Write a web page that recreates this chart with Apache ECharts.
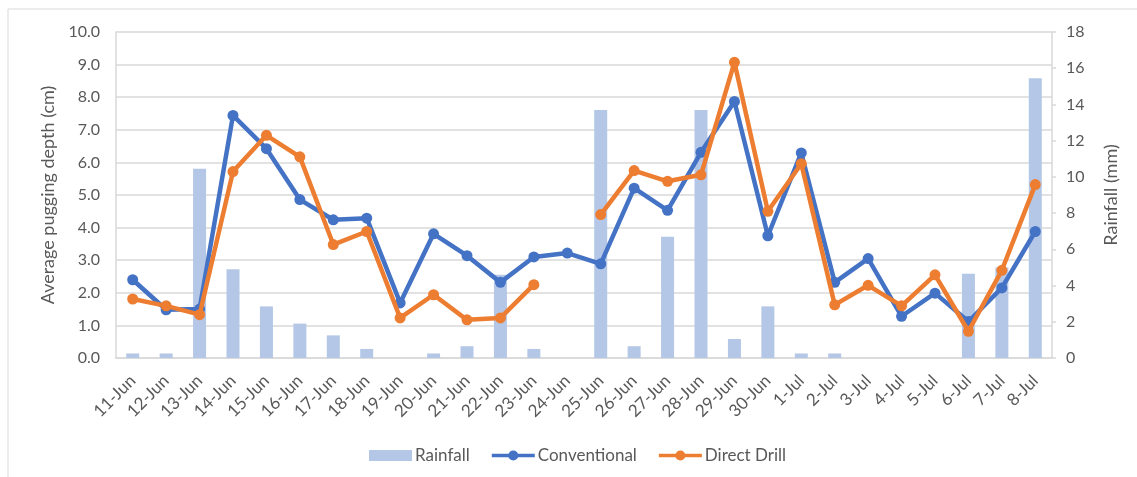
<!DOCTYPE html>
<html>
<head>
<meta charset="utf-8">
<script src="https://cdn.jsdelivr.net/npm/echarts@6/dist/echarts.min.js"></script>
<style>
  html, body { margin: 0; padding: 0; background: #fff; }
  #chart { width: 1137px; height: 477px; }
</style>
</head>
<body>
<div id="chart"></div>
<script>
// Daily dates, 11 June to 8 July
const days = ['11-Jun','12-Jun','13-Jun','14-Jun','15-Jun','16-Jun','17-Jun','18-Jun','19-Jun','20-Jun',
  '21-Jun','22-Jun','23-Jun','24-Jun','25-Jun','26-Jun','27-Jun','28-Jun','29-Jun','30-Jun',
  '1-Jul','2-Jul','3-Jul','4-Jul','5-Jul','6-Jul','7-Jul','8-Jul'];

// Daily rainfall (mm)
const rainfall = [0.25, 0.25, 10.45, 4.9, 2.85, 1.9, 1.25, 0.5, 0, 0.25,
  0.65, 4.6, 0.5, 0, 13.7, 0.65, 6.7, 13.7, 1.05, 2.85,
  0.25, 0.25, 0, 0, 0, 4.65, 5.0, 15.45];

// Average pugging depth (cm), conventional cultivation
const conventional = [2.40, 1.48, 1.50, 7.44, 6.42, 4.86, 4.24, 4.29, 1.69, 3.81,
  3.14, 2.32, 3.10, 3.22, 2.89, 5.21, 4.53, 6.31, 7.87, 3.75,
  6.29, 2.32, 3.05, 1.28, 1.99, 1.12, 2.15, 3.88];

// Average pugging depth (cm), direct drilled (no reading on 24-Jun)
const directDrill = [1.81, 1.60, 1.33, 5.72, 6.83, 6.17, 3.48, 3.88, 1.23, 1.94,
  1.17, 1.23, 2.25, null, 4.40, 5.75, 5.42, 5.62, 9.07, 4.50,
  5.96, 1.63, 2.23, 1.60, 2.55, 0.82, 2.69, 5.32];

const FONT = 'Lato';
const TEXT = '#595959';
const GRID_LINE = '#D9D9D9';

// Legend key for the line series: thick stroke with a round marker in the middle
const LINE_KEY = 'path://M0,3.6 L44,3.6 L44,7.4 L0,7.4 Z M22,0.3 A5.2,5.2 0 1 1 22,10.7 A5.2,5.2 0 1 1 22,0.3 Z';

const chart = echarts.init(document.getElementById('chart'), null, { renderer: 'canvas' });

chart.setOption({
  animation: false,
  backgroundColor: '#fff',
  textStyle: { fontFamily: FONT, color: TEXT },
  graphic: [{
    type: 'rect',
    shape: { x: 8, y: 9, width: 1300, height: 600 },
    style: { fill: 'none', stroke: '#D9D9D9', lineWidth: 1 },
    silent: true,
    z: -10
  }],
  grid: { left: 116, right: 85, top: 32, bottom: 119, containLabel: false },
  legend: {
    left: 364,
    top: 442,
    itemGap: 22,
    itemWidth: 43,
    itemHeight: 11,
    textStyle: { fontFamily: FONT, fontSize: 17, color: TEXT, padding: [0, 0, 0, -2] },
    data: [
      { name: 'Rainfall', icon: 'rect' },
      { name: 'Conventional', icon: LINE_KEY },
      { name: 'Direct Drill', icon: LINE_KEY }
    ]
  },
  xAxis: {
    type: 'category',
    data: days,
    boundaryGap: true,
    axisLine: { show: true, lineStyle: { color: GRID_LINE, width: 1.5 } },
    axisTick: { show: false },
    axisLabel: {
      interval: 0,
      rotate: 45,
      margin: 20,
      fontFamily: FONT,
      fontSize: 17,
      color: TEXT
    }
  },
  yAxis: [{
    type: 'value',
    min: 0,
    max: 10,
    interval: 1,
    name: 'Average pugging depth (cm)',
    nameLocation: 'middle',
    nameRotate: 90,
    nameGap: 58,
    nameTextStyle: { fontFamily: FONT, fontSize: 18, color: TEXT },
    axisLine: { show: true, lineStyle: { color: GRID_LINE, width: 1.5 } },
    axisTick: { show: false },
    splitLine: { show: true, lineStyle: { color: GRID_LINE, width: 1.5 } },
    axisLabel: {
      margin: 16,
      fontFamily: FONT,
      fontSize: 16,
      color: TEXT,
      formatter: v => v.toFixed(1)
    }
  }, {
    type: 'value',
    min: 0,
    max: 18,
    interval: 2,
    position: 'right',
    name: 'Rainfall (mm)',
    nameLocation: 'middle',
    nameRotate: 90,
    nameGap: 50,
    nameTextStyle: { fontFamily: FONT, fontSize: 18, color: TEXT },
    axisLine: { show: true, lineStyle: { color: GRID_LINE, width: 1.5 } },
    axisTick: { show: true, length: 4, inside: false, lineStyle: { color: GRID_LINE, width: 1.5 } },
    splitLine: { show: false },
    axisLabel: {
      margin: 14,
      fontFamily: FONT,
      fontSize: 16,
      color: TEXT
    }
  }],
  series: [{
    name: 'Rainfall',
    type: 'bar',
    yAxisIndex: 1,
    data: rainfall,
    barWidth: 13,
    itemStyle: { color: '#B4C7E7' },
    z: 1
  }, {
    name: 'Conventional',
    type: 'line',
    yAxisIndex: 0,
    data: conventional,
    symbol: 'circle',
    symbolSize: 11,
    lineStyle: { color: '#4472C4', width: 4.5 },
    itemStyle: { color: '#4472C4' },
    z: 3
  }, {
    name: 'Direct Drill',
    type: 'line',
    yAxisIndex: 0,
    data: directDrill,
    connectNulls: false,
    symbol: 'circle',
    symbolSize: 11,
    lineStyle: { color: '#ED7D31', width: 4.5 },
    itemStyle: { color: '#ED7D31' },
    z: 4
  }]
});
</script>
</body>
</html>
